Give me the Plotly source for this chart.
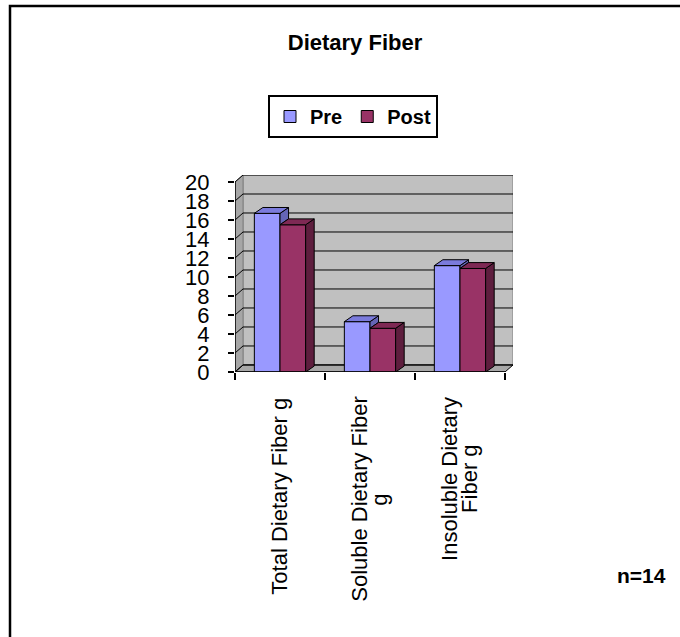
import plotly.graph_objects as go

# ---- data ----
categories = ["Total Dietary Fiber g", "Soluble Dietary Fiber<br>g", "Insoluble Dietary<br>Fiber g"]
pre_values = [16.7, 5.3, 11.2]
post_values = [15.5, 4.6, 10.9]
y_ticks = [0, 2, 4, 6, 8, 10, 12, 14, 16, 18, 20]

# ---- styling / geometry ----
W, H = 680, 637
M_L, M_R, M_T, M_B = 235, 167, 175, 265
PLOT_W = W - M_L - M_R
PLOT_H = H - M_T - M_B
Y_MAX = 20
DX = 0.089          # depth shift of walls (x units)
DY = 0.74           # depth shift of walls (y units)
BAR_DX = 0.095
BAR_DY = 0.62
BARGAP = 0.43
BAR_W = (1 - BARGAP) / 2
X_MIN, X_MAX = -0.5, len(categories) - 0.5

FONT = "Arial, Liberation Sans, sans-serif"
LABEL_SIZE = 22
LABEL_LINE_PX = 20      # spacing between wrapped lines of a rotated category label
PRE_COL, PRE_TOP, PRE_SIDE = "#9999FF", "#7B7BDC", "#6565B5"
POST_COL, POST_TOP, POST_SIDE = "#993366", "#7E2954", "#5E1E3E"
WALL, SIDE_WALL, FLOOR = "#C0C0C0", "#A6A6A6", "#A8A8A8"


def px_x(px):
    return (px - M_L) / PLOT_W


def px_y(py):
    return (H - M_B - py) / PLOT_H


def poly_path(pts):
    return "M " + " L ".join(f"{x},{y}" for x, y in pts) + " Z"


def faces_trace(polys, color):
    xs, ys = [], []
    for p in polys:
        for x, y in p + [p[0]]:
            xs.append(x)
            ys.append(y)
        xs.append(None)
        ys.append(None)
    return go.Scatter(x=xs, y=ys, mode="lines", fill="toself", fillcolor=color,
                      line=dict(color="black", width=1), showlegend=False,
                      hoverinfo="skip")


fig = go.Figure()

# front faces of the columns
xs = list(range(len(categories)))
fig.add_trace(go.Bar(x=xs, y=pre_values, name="Pre", width=BAR_W, offset=-BAR_W,
                     marker=dict(color=PRE_COL, line=dict(color="black", width=1))))
fig.add_trace(go.Bar(x=xs, y=post_values, name="Post", width=BAR_W, offset=0,
                     marker=dict(color=POST_COL, line=dict(color="black", width=1))))

# 3D side and top faces
pre_side, pre_top, post_side, post_top = [], [], [], []
for i, (a, b) in enumerate(zip(pre_values, post_values)):
    xl, xm, xr = i - BAR_W, i, i + BAR_W
    # Pre side: only the part above the Post column is visible
    if a > b:
        pre_side.append([(xm, b), (xm, a), (xm + BAR_DX, a + BAR_DY), (xm + BAR_DX, b + BAR_DY)])
    pre_top.append([(xl, a), (xm, a), (xm + BAR_DX, a + BAR_DY), (xl + BAR_DX, a + BAR_DY)])
    post_side.append([(xr, 0), (xr, b), (xr + BAR_DX, b + BAR_DY), (xr + BAR_DX, BAR_DY)])
    post_top.append([(xm, b), (xr, b), (xr + BAR_DX, b + BAR_DY), (xm + BAR_DX, b + BAR_DY)])

fig.add_trace(faces_trace(pre_side, PRE_SIDE))
fig.add_trace(faces_trace(post_side, POST_SIDE))
fig.add_trace(faces_trace(post_top, POST_TOP))
fig.add_trace(faces_trace(pre_top, PRE_TOP))

shapes = []
# back wall, side wall, floor
shapes.append(dict(type="path", layer="below", xref="x", yref="y",
                   path=poly_path([(X_MIN + DX, DY), (X_MAX + DX, DY), (X_MAX + DX, Y_MAX + DY), (X_MIN + DX, Y_MAX + DY)]),
                   fillcolor=WALL, line=dict(color="#808080", width=1)))
shapes.append(dict(type="path", layer="below", xref="x", yref="y",
                   path=poly_path([(X_MIN, 0), (X_MIN + DX, DY), (X_MIN + DX, Y_MAX + DY), (X_MIN, Y_MAX)]),
                   fillcolor=SIDE_WALL, line=dict(color="#808080", width=1)))
shapes.append(dict(type="path", layer="below", xref="x", yref="y",
                   path=poly_path([(X_MIN, 0), (X_MAX, 0), (X_MAX + DX, DY), (X_MIN + DX, DY)]),
                   fillcolor=FLOOR, line=dict(color="black", width=1)))
# gridlines on the back and side walls
for t in y_ticks:
    shapes.append(dict(type="line", layer="below", xref="x", yref="y",
                       x0=X_MIN + DX, x1=X_MAX + DX, y0=t + DY, y1=t + DY,
                       line=dict(color="black", width=1)))
    shapes.append(dict(type="line", layer="below", xref="x", yref="y",
                       x0=X_MIN, x1=X_MIN + DX, y0=t, y1=t + DY,
                       line=dict(color="black", width=1)))
# front axis lines
shapes.append(dict(type="line", xref="x", yref="y", x0=X_MIN, x1=X_MIN, y0=0, y1=Y_MAX,
                   line=dict(color="black", width=1.5)))
shapes.append(dict(type="line", xref="x", yref="y", x0=X_MIN, x1=X_MAX, y0=0, y1=0,
                   line=dict(color="black", width=1.5)))
# outer chart frame
shapes.append(dict(type="rect", xref="paper", yref="paper",
                   x0=px_x(10), x1=px_x(720), y0=px_y(680), y1=px_y(6),
                   line=dict(color="black", width=2.5), fillcolor="rgba(0,0,0,0)"))

# rough Arial advance widths (em) for centring wrapped rotated labels
_AW = {"T": .611, "o": .556, "t": .278, "a": .556, "l": .222, " ": .278, "D": .722,
       "i": .222, "e": .556, "r": .333, "y": .5, "F": .611, "b": .556, "g": .556,
       "S": .667, "u": .556, "I": .278, "n": .556, "s": .5}


def text_len_px(s, size):
    return sum(_AW.get(ch, .55) for ch in s) * size


LABEL_TOP_PX = 397
annotations = []
for i, c in enumerate(categories):
    lines = c.split("<br>")
    longest = max(text_len_px(s, LABEL_SIZE) for s in lines)
    center_px = LABEL_TOP_PX + longest / 2
    n = len(lines)
    for k, s in enumerate(lines):
        annotations.append(dict(x=i, xref="x", y=px_y(center_px), yref="paper", text=s,
                                showarrow=False, textangle=-90,
                                xanchor="center", yanchor="middle",
                                xshift=(k - (n - 1) / 2) * LABEL_LINE_PX,
                                font=dict(family=FONT, size=LABEL_SIZE, color="black")))
annotations.append(dict(x=px_x(641), xref="paper", y=px_y(575), yref="paper",
                        text="<b>n=14</b>", showarrow=False, xanchor="center", yanchor="middle",
                        font=dict(family=FONT, size=21, color="black")))

fig.update_layout(
    width=W, height=H,
    margin=dict(l=M_L, r=M_R, t=M_T, b=M_B, pad=0),
    paper_bgcolor="white", plot_bgcolor="white",
    barmode="overlay",
    title=dict(text="<b>Dietary Fiber</b>", x=355 / W, xref="container", xanchor="center",
               y=1 - 42 / H, yref="container", yanchor="middle",
               font=dict(family=FONT, size=22, color="black")),
    legend=dict(orientation="h", x=353 / W, xref="container", xanchor="center",
                y=1 - 95 / H, yref="container", yanchor="top",
                bordercolor="black", borderwidth=2, bgcolor="white",
                font=dict(family=FONT, size=20, color="black", weight="bold"),
                itemwidth=30, tracegroupgap=0),
    xaxis=dict(range=[X_MIN, X_MAX + DX], showgrid=False, zeroline=False, showline=False,
               tickmode="array", tickvals=[X_MIN + k for k in range(len(categories) + 1)],
               ticks="outside", ticklen=7, tickwidth=1.5, tickcolor="black",
               showticklabels=False, fixedrange=True),
    yaxis=dict(range=[0, Y_MAX + DY], showgrid=False, zeroline=False, showline=False,
               tickmode="array", tickvals=y_ticks, ticktext=[str(t) for t in y_ticks],
               ticks="outside", ticklen=6, tickwidth=1.5, tickcolor="black",
               ticklabelstandoff=14,
               tickfont=dict(family=FONT, size=22, color="black"), fixedrange=True),
    shapes=shapes,
    annotations=annotations,
    showlegend=True,
)

fig.write_html("out.html")
